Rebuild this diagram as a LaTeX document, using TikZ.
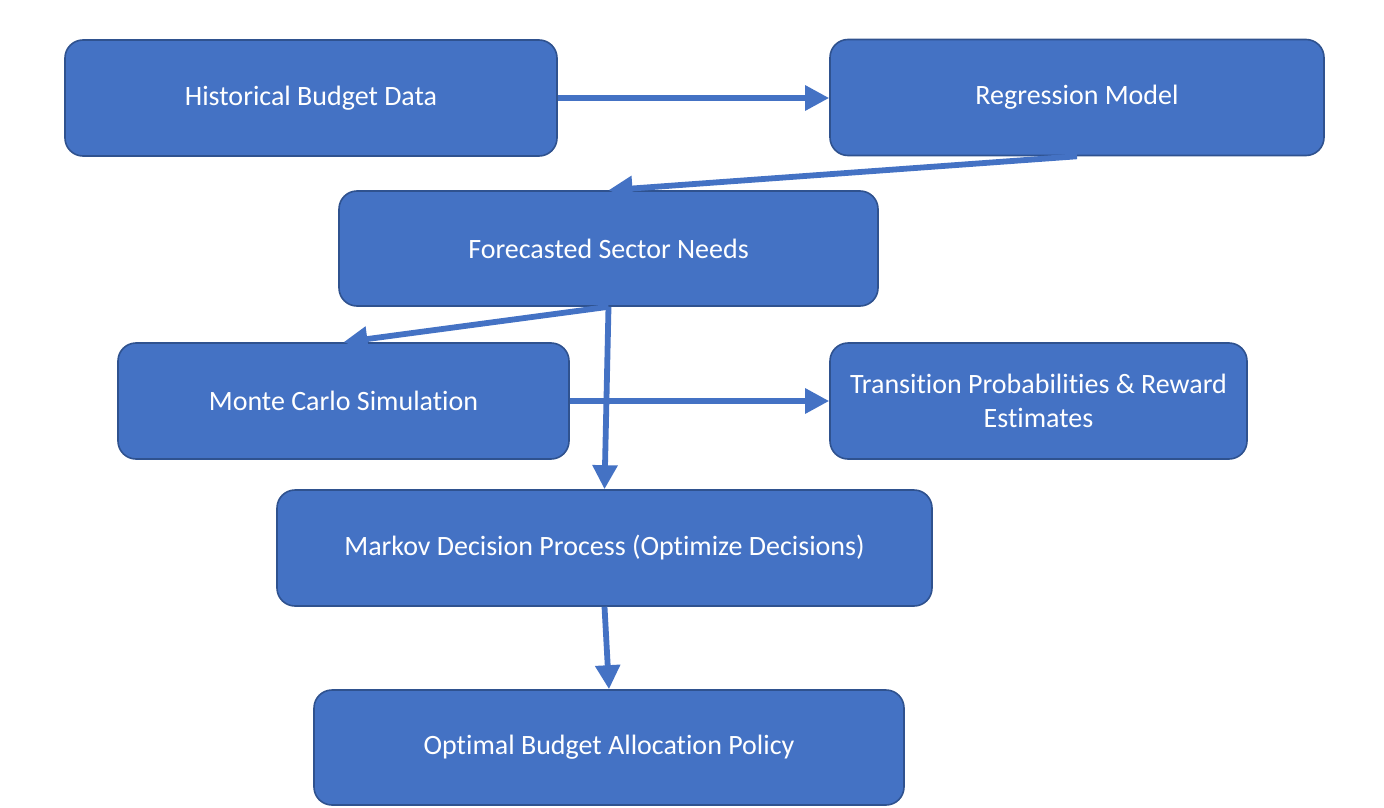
\documentclass[tikz,border=0pt]{standalone}
\usepackage{fontspec}
\setmainfont[Ligatures=NoCommon]{Carlito}
\usetikzlibrary{arrows.meta}
\definecolor{boxfill}{HTML}{4472C4}
\definecolor{boxline}{HTML}{2F528F}
\begin{document}
\begin{tikzpicture}[x=1pt,y=-1pt,
  flowbox/.style={draw=boxline, line width=1.6pt, fill=boxfill, rounded corners=18pt,
    text=white, font=\fontsize{28}{34}\selectfont, align=center, inner sep=0pt},
  flowarrow/.style={draw=boxfill, line width=5.8pt, -{Triangle[length=24pt,width=24pt]}, shorten <=0pt}]
\useasboundingbox (0,0) rectangle (1384,808);
\node[flowbox, minimum width=492pt, minimum height=116pt] (hist) at (311,98) {Historical Budget Data};
\node[flowbox, minimum width=494pt, minimum height=116pt] (reg) at (1077,97.5) {Regression Model};
\node[flowbox, minimum width=539pt, minimum height=115pt] (fore) at (608.5,248.5) {Forecasted Sector Needs};
\node[flowbox, minimum width=451pt, minimum height=116pt] (mc) at (343.5,401) {Monte Carlo Simulation};
\node[flowbox, minimum width=417pt, minimum height=116pt] (trans) at (1038.5,401) {Transition Probabilities \& Reward\\Estimates};
\node[flowbox, minimum width=655pt, minimum height=116pt] (mdp) at (604.5,548) {Markov Decision Process (Optimize Decisions)};
\node[flowbox, minimum width=590pt, minimum height=115pt] (opt) at (609,747.5) {Optimal Budget Allocation Policy};
\draw[flowarrow] (hist.east) -- (hist.east -| reg.west);
\draw[flowarrow] (reg.south) -- (fore.north);
\draw[flowarrow] (fore.south) -- (mc.north);
\draw[flowarrow] (mc.east) -- (trans.west);
\draw[flowarrow] (fore.south) -- (mdp.north);
\draw[flowarrow] (mdp.south) -- (opt.north);
\end{tikzpicture}
\end{document}
